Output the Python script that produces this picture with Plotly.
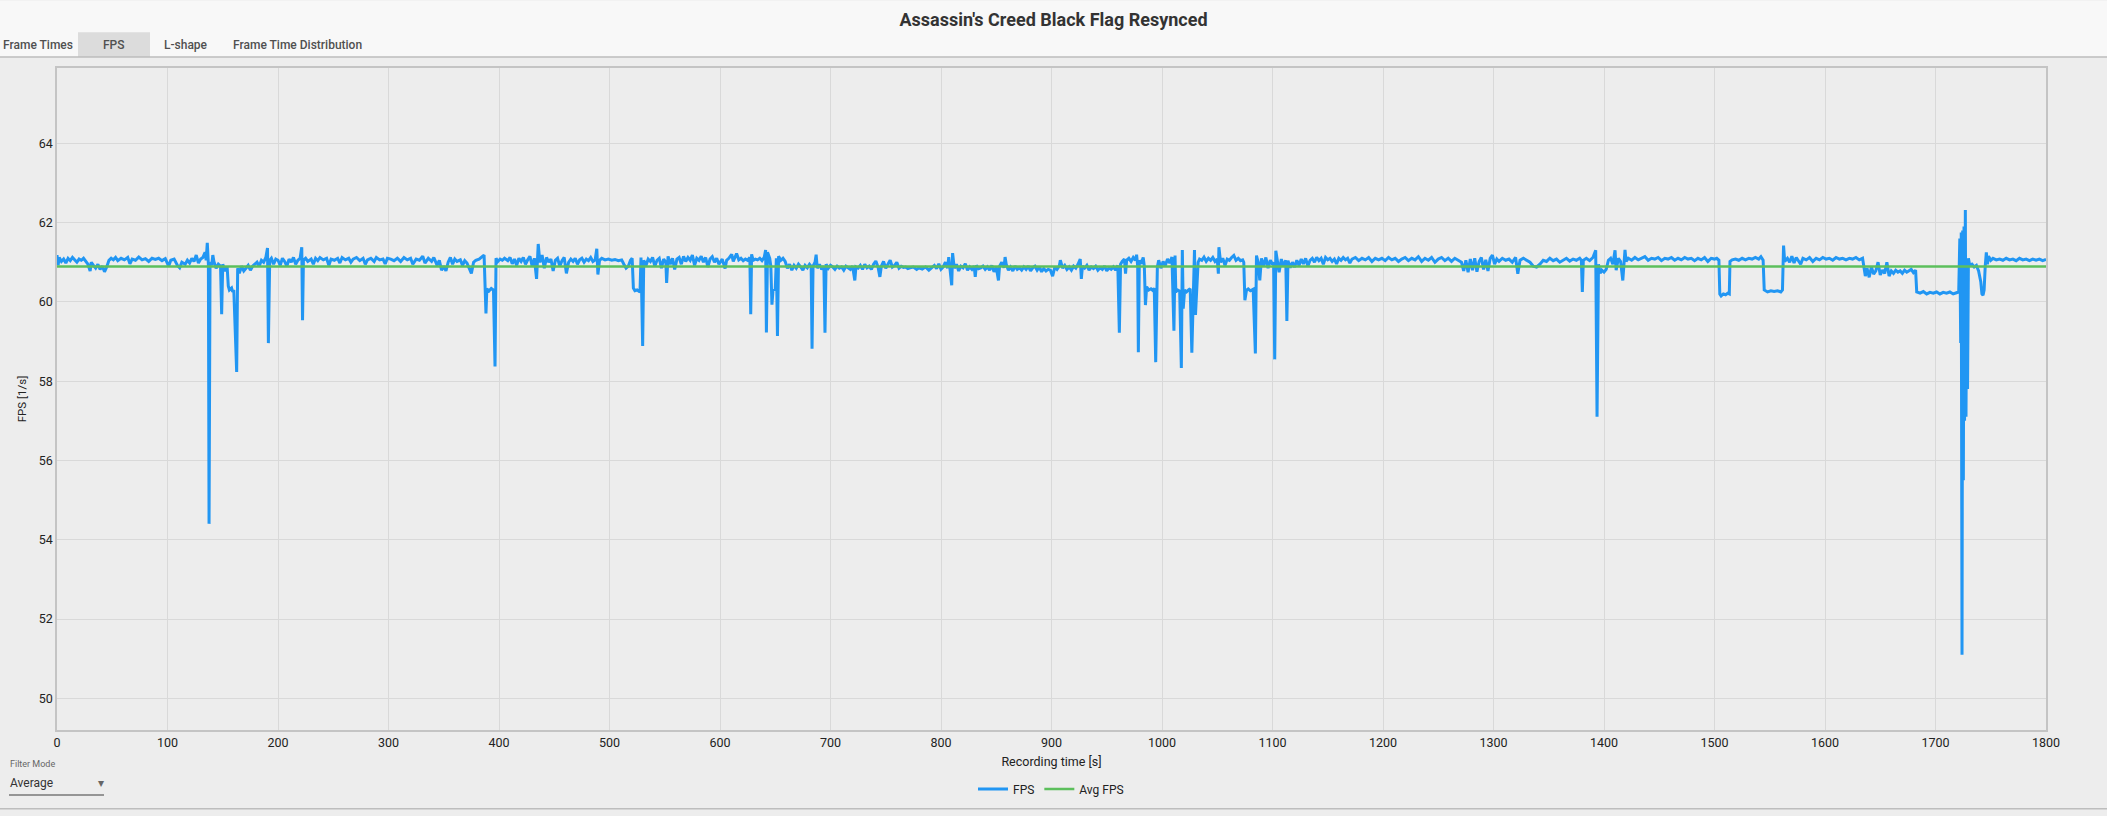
import plotly.graph_objects as go

# ---------------- data ----------------
chart_title = "Assassin's Creed Black Flag Resynced"
tab_labels = ["Frame Times", "FPS", "L-shape", "Frame Time Distribution"]
x_ticks = list(range(0, 1801, 100))
y_ticks = list(range(50, 65, 2))
avg_fps = 60.89

fps_0_300 = [
    (0, 61.18), (1, 60.92), (2, 61.12), (4, 61.02), (6, 61.08), (8, 60.98), (10, 61.1), (12, 61.04),
    (14, 61.12), (16, 61.06), (18, 61.0), (20, 61.08), (22, 61.05), (24, 61.1), (26, 61.02), (28, 60.95),
    (30, 60.78), (31, 61.0), (33, 60.92), (35, 60.85), (37, 60.95), (39, 60.82), (41, 60.9), (43, 60.76),
    (45, 60.88), (47, 61.05), (49, 61.1), (51, 61.06), (53, 61.12), (55, 61.04), (58, 61.1), (61, 61.06),
    (64, 61.12), (66, 60.96), (68, 61.08), (71, 61.05), (74, 61.13), (77, 61.06), (80, 61.09), (83, 61.02),
    (86, 61.1), (89, 61.07), (92, 61.1), (95, 61.04), (98, 61.09), (101, 60.9), (103, 61.05), (106, 61.08),
    (109, 60.92), (111, 60.86), (113, 61.0), (116, 60.95), (118, 61.05), (120, 60.98), (122, 61.1),
    (124, 61.02), (126, 61.18), (128, 60.98), (130, 61.08), (132, 61.12), (134, 61.25), (135, 61.05),
    (136, 61.49), (137, 60.95), (137.6, 54.4), (138.5, 61.0), (140, 60.92), (141, 61.18), (142, 61.02),
    (144, 60.85), (146, 60.95), (148, 60.9), (149, 59.69), (150, 60.95), (152, 60.78), (154, 60.88),
    (155, 60.4), (156, 60.3), (158, 60.35), (159, 60.25), (160, 60.3), (162.6, 58.23), (163.5, 60.85),
    (165, 60.72), (167, 60.9), (169, 60.78), (171, 60.85), (173, 60.92), (175, 60.8), (177, 60.9),
    (179, 60.95), (181, 61.0), (183, 60.9), (185, 61.05), (187, 61.0), (189, 61.12), (190.5, 61.36),
    (191.3, 58.96), (192.5, 61.05), (194, 61.1), (196, 60.95), (198, 61.08), (200, 61.05), (202, 60.92),
    (204, 61.1), (206, 61.02), (208, 60.9), (210, 61.08), (212, 61.0), (214, 61.12), (216, 60.95),
    (218, 61.05), (220, 61.1), (221.5, 61.38), (222.2, 59.54), (223, 61.05), (225, 61.1), (227, 61.02),
    (230, 61.08), (232, 60.95), (234, 61.1), (236, 61.04), (238, 61.12), (241, 61.06), (244, 61.1),
    (246, 60.92), (248, 61.08), (251, 61.05), (254, 61.1), (256, 60.98), (258, 61.12), (261, 61.06),
    (264, 61.1), (266, 61.0), (268, 61.08), (271, 61.12), (274, 61.04), (277, 61.1), (279, 60.95),
    (281, 61.06), (284, 61.1), (287, 61.02), (289, 61.12), (292, 61.06), (295, 61.08), (297, 60.96),
    (299, 61.1),
]

fps_300_600 = [
    (302, 61.08), (305, 61.04), (308, 61.1), (311, 61.02), (314, 61.12), (317, 61.06), (320, 61.1),
    (322, 60.95), (325, 61.08), (328, 61.05), (331, 61.15), (333, 60.98), (336, 61.1), (339, 61.02),
    (341, 61.12), (344, 60.92), (346, 61.05), (348, 60.8), (350, 60.9), (352, 60.78), (354, 61.0),
    (356, 61.12), (358, 60.95), (360, 61.08), (362, 61.02), (365, 61.06), (367, 60.92), (369, 61.04),
    (371, 60.98), (373, 60.85), (375, 60.72), (377, 61.0), (379, 61.05), (382, 61.08), (384, 61.12),
    (386.5, 61.18), (388.2, 59.71), (389, 60.33), (391, 60.28), (393, 60.34), (395, 60.3), (396.4, 58.37),
    (397.3, 61.1), (399, 61.02), (401, 61.08), (403, 61.05), (405, 61.1), (408, 61.04), (410, 61.12),
    (412, 60.96), (414, 61.08), (416, 60.92), (418, 61.1), (420, 61.02), (422, 61.12), (424, 60.95),
    (426, 61.06), (428, 61.15), (430, 60.9), (432, 61.1), (434, 60.58), (435.5, 61.46), (437, 61.0),
    (439, 61.18), (441, 60.85), (443, 61.12), (445, 61.0), (447, 61.08), (449, 60.78), (451, 61.05),
    (453, 61.1), (455, 60.9), (457, 61.04), (459, 61.12), (461, 60.72), (463, 61.0), (465, 61.08),
    (467, 61.02), (469, 61.1), (471, 60.95), (473, 61.06), (475, 61.1), (477, 61.0), (479, 61.08),
    (481, 61.04), (483, 61.12), (485, 61.02), (487, 61.06), (488.5, 61.34), (489.5, 60.69), (491, 61.05),
    (493, 61.1), (496, 61.06), (499, 61.08), (502, 61.05), (505, 61.07), (508, 61.04), (511, 61.06),
    (513, 60.95), (515, 60.85), (517, 60.9), (519, 61.05), (520.5, 61.1), (521.6, 60.35), (523, 60.28),
    (525, 60.3), (527.6, 60.25), (528.5, 61.12), (530, 58.89), (531, 61.05), (533, 60.92), (535, 61.08),
    (537, 61.02), (539, 61.12), (541, 60.9), (543, 61.05), (545, 61.1), (547, 60.85), (549, 61.08),
    (551, 61.0), (551.7, 60.48), (553, 61.15), (555, 60.95), (557, 61.1), (559, 60.82), (561, 61.08),
    (563, 61.12), (565, 60.95), (567, 61.15), (569, 61.02), (571, 61.12), (573, 61.05), (575, 61.18),
    (577, 60.92), (579, 61.1), (581, 61.05), (583, 61.15), (585, 61.0), (587, 61.12), (589, 60.88),
    (591, 61.08), (593, 61.14), (595, 61.0), (597, 61.1), (599, 60.95),
]

fps_600_900 = [
    (602, 61.08), (604.6, 60.84), (606, 61.05), (608, 61.1), (610.6, 61.2), (612, 61.02), (615, 61.22),
    (617, 61.06), (619, 61.1), (621, 61.04), (623, 61.08), (625, 61.05), (627, 61.12), (627.8, 59.69),
    (628.6, 61.2), (630, 61.05), (632, 61.08), (634, 61.06), (636, 61.1), (638, 61.04), (640, 61.12),
    (641.3, 61.31), (642, 59.23), (643, 61.25), (645, 61.1), (646, 60.9), (647, 59.93), (648, 60.3),
    (650, 60.32), (651, 61.1), (652, 59.14), (653, 61.15), (655, 61.05), (657, 61.1), (659, 61.02),
    (661, 60.85), (663, 60.95), (665, 60.8), (667, 60.92), (669, 60.85), (671, 60.95), (673, 60.88),
    (675, 60.8), (677, 60.92), (679, 60.86), (681, 60.95), (682.5, 60.9), (683.3, 58.82), (684.2, 60.9),
    (686, 61.0), (687, 61.19), (688, 60.85), (690, 60.95), (692, 60.82), (694, 60.9), (695, 59.22),
    (696, 60.95), (698, 60.85), (700, 60.92), (702, 60.88), (704, 60.82), (706, 60.9), (708, 60.85),
    (710, 60.88), (712, 60.8), (714, 60.9), (716, 60.86), (718, 60.82), (720, 60.9), (722, 60.54),
    (723, 60.88), (725, 60.85), (727, 60.92), (729, 60.82), (731, 60.95), (733, 60.86), (735, 60.9),
    (737, 60.82), (739, 60.95), (741, 61.03), (743, 60.88), (744.7, 60.63), (746, 60.9), (748, 61.02),
    (750, 60.85), (752, 60.95), (754, 61.05), (756, 60.88), (758, 60.92), (760, 61.0), (762, 60.85),
    (764, 60.9), (766, 60.87), (768, 60.88), (770, 60.84), (772, 60.86), (775, 60.88), (778, 60.82),
    (780, 60.86), (783, 60.83), (786, 60.88), (789, 60.8), (792, 60.86), (794, 60.92), (796, 60.84),
    (798, 60.96), (800, 60.82), (802, 60.88), (804, 61.0), (806, 60.85), (807, 61.13), (808, 60.9),
    (809.7, 60.42), (810.5, 61.23), (812, 60.85), (814, 60.95), (816, 60.78), (818, 60.9), (820, 60.86),
    (822, 60.96), (824, 60.8), (826, 60.88), (828, 60.82), (830, 60.9), (831, 60.63), (832, 60.92),
    (834, 60.84), (836, 60.86), (838, 60.9), (840, 60.82), (842, 60.88), (844, 60.8), (846, 60.92),
    (848, 60.76), (850, 60.88), (852, 60.54), (853, 60.9), (855, 61.0), (857, 60.86), (858, 61.13),
    (859, 60.95), (861, 60.8), (863, 60.88), (865, 60.78), (867, 60.9), (869, 60.82), (871, 60.86),
    (873, 60.8), (875, 60.88), (877, 60.82), (879, 60.9), (881, 60.78), (883, 60.86), (885, 60.9),
    (887, 60.8), (889, 60.88), (891, 60.76), (893, 60.84), (895, 60.78), (897, 60.82), (899, 60.8),
]

fps_900_1200 = [
    (901, 60.65), (903, 60.88), (905, 60.82), (907, 60.9), (908, 61.05), (910, 60.85), (912, 60.92),
    (914, 60.82), (916, 60.88), (918, 60.8), (920, 60.9), (922, 60.85), (924, 60.95), (926, 61.08),
    (927, 60.58), (928, 60.9), (930, 60.85), (932, 60.92), (934, 60.8), (936, 60.88), (938, 60.84),
    (940, 60.9), (942, 60.8), (944, 60.86), (946, 60.82), (948, 60.9), (950, 60.78), (952, 60.86),
    (954, 60.82), (956, 60.88), (958, 60.8), (960, 60.92), (961.4, 59.22), (962.5, 60.95), (964, 61.02),
    (966, 61.08), (967, 60.71), (968, 61.05), (970, 61.1), (972, 61.02), (974, 61.12), (976, 61.05),
    (977, 61.19), (978, 60.9), (978.6, 58.73), (979.5, 61.05), (981, 60.96), (983, 61.12), (984, 60.9),
    (985, 59.92), (986.1, 60.38), (988, 60.3), (990, 60.33), (992, 60.28), (993, 60.35), (994.3, 58.48),
    (995.8, 60.88), (997, 61.05), (999, 60.85), (1001, 61.02), (1003, 60.92), (1005, 61.08), (1007, 60.98),
    (1009, 61.13), (1010.8, 59.27), (1011.8, 61.17), (1012.5, 60.25), (1014, 60.3), (1016, 60.27),
    (1017.5, 58.33), (1018.4, 61.31), (1019.2, 59.83), (1020.5, 60.3), (1022.2, 60.25), (1024, 60.3),
    (1025.5, 60.33), (1027, 58.72), (1028.5, 60.3), (1029.4, 61.31), (1030.3, 59.67), (1031.5, 60.29),
    (1032.7, 61.0), (1034, 61.08), (1036, 61.05), (1038, 61.13), (1040, 61.02), (1042, 61.1), (1044, 61.05),
    (1046, 61.12), (1048, 61.02), (1050, 61.08), (1051, 60.71), (1051.5, 61.38), (1053, 61.0), (1055, 61.1),
    (1057, 60.92), (1059, 61.08), (1061, 61.05), (1063, 61.12), (1065, 61.17), (1067, 61.05), (1069, 61.1),
    (1071, 61.04), (1073, 61.06), (1074, 61.0), (1075, 60.04), (1076.5, 60.3), (1078, 60.33), (1080, 60.28),
    (1082.5, 60.32), (1084.5, 58.7), (1085.5, 61.17), (1087, 61.0), (1088.5, 60.54), (1090, 61.1),
    (1092, 60.9), (1094, 61.12), (1096, 60.85), (1098, 61.05), (1100, 60.95), (1101, 61.0), (1102, 58.55),
    (1103, 61.29), (1104.5, 60.95), (1106, 60.75), (1108, 61.08), (1110, 60.9), (1112, 61.05),
    (1113, 59.52), (1114, 61.04), (1116, 60.86), (1118, 61.0), (1120, 60.88), (1122, 61.05), (1124, 60.92),
    (1126, 61.08), (1128, 60.96), (1130, 61.1), (1132, 60.9), (1134, 61.05), (1136, 61.1), (1138, 61.0),
    (1140, 61.12), (1142, 61.04), (1144, 61.1), (1146, 60.95), (1148, 61.12), (1150, 61.06), (1152, 61.1),
    (1154, 61.02), (1156, 61.08), (1158, 60.96), (1160, 61.1), (1162, 61.05), (1164, 61.12), (1166, 61.06),
    (1168, 61.1), (1170, 60.98), (1172, 61.08), (1175, 61.12), (1178, 61.04), (1181, 61.1), (1184, 61.06),
    (1187, 61.12), (1190, 61.02), (1193, 61.1), (1196, 61.06), (1199, 61.1),
]

fps_1200_1500 = [
    (1202, 61.04), (1205, 61.12), (1208, 61.06), (1211, 61.1), (1214, 61.02), (1217, 61.08), (1220, 61.12),
    (1223, 61.04), (1226, 61.1), (1229, 61.06), (1232, 61.14), (1235, 61.02), (1238, 61.1), (1241, 61.05),
    (1244, 61.12), (1247, 61.0), (1250, 61.08), (1253, 61.12), (1256, 61.04), (1259, 61.1), (1262, 61.02),
    (1265, 61.1), (1268, 61.06), (1271, 61.0), (1273, 60.78), (1275, 61.05), (1277, 60.75), (1279, 61.08),
    (1281, 60.8), (1283, 61.1), (1285, 60.76), (1287, 61.02), (1289, 61.12), (1291, 60.82), (1293, 61.06),
    (1295, 60.78), (1297, 61.1), (1299, 61.18), (1301, 60.95), (1303, 61.08), (1305, 61.02), (1308, 61.1),
    (1311, 61.05), (1314, 61.08), (1317, 61.0), (1320, 61.12), (1322, 60.71), (1324, 61.05), (1327, 61.1),
    (1330, 61.04), (1333, 61.0), (1336, 60.9), (1339, 60.88), (1342, 60.95), (1345, 61.05), (1348, 61.02),
    (1351, 61.1), (1354, 61.04), (1357, 61.08), (1360, 61.0), (1363, 61.06), (1366, 61.1), (1369, 61.03),
    (1372, 61.08), (1375, 61.05), (1378, 61.1), (1379.5, 61.05), (1380.4, 60.25), (1381.3, 61.05),
    (1384, 61.1), (1387, 61.04), (1390, 61.12), (1392.5, 61.3), (1393.7, 57.1), (1395, 60.95),
    (1396.5, 60.72), (1398, 60.8), (1400, 60.75), (1402, 60.82), (1404, 61.05), (1406, 61.1), (1408, 60.95),
    (1410, 61.3), (1411, 60.8), (1413, 61.1), (1415, 61.02), (1417, 60.54), (1418, 61.05), (1419, 61.31),
    (1420, 61.02), (1422, 61.1), (1425, 61.05), (1428, 61.12), (1431, 61.06), (1434, 61.1), (1437, 61.14),
    (1440, 61.05), (1443, 61.1), (1446, 61.08), (1449, 61.12), (1452, 61.04), (1455, 61.1), (1458, 61.08),
    (1461, 61.12), (1464, 61.05), (1467, 61.1), (1470, 61.06), (1473, 61.12), (1476, 61.08), (1479, 61.1),
    (1482, 61.04), (1485, 61.1), (1488, 61.06), (1491, 61.12), (1494, 61.02), (1497, 61.1), (1500, 61.08),
]

fps_1500_1800 = [
    (1502, 61.1), (1504, 61.05), (1504.8, 60.2), (1506, 60.15), (1508, 60.2), (1510, 60.18), (1512, 60.22),
    (1513.4, 60.2), (1514, 61.02), (1516, 61.06), (1519, 61.08), (1522, 61.05), (1525, 61.1), (1528, 61.06),
    (1531, 61.1), (1534, 61.08), (1537, 61.12), (1540, 61.08), (1542, 61.14), (1544, 61.05), (1545, 60.3),
    (1548, 60.25), (1551, 60.28), (1554, 60.26), (1557, 60.28), (1560, 60.25), (1561.5, 60.3),
    (1562.5, 61.42), (1563.5, 61.02), (1566, 61.1), (1568, 61.0), (1570, 61.15), (1572, 60.98), (1574, 61.12),
    (1576, 61.05), (1578, 60.95), (1580, 61.1), (1583, 61.06), (1586, 61.12), (1589, 61.02), (1592, 61.1),
    (1595, 61.06), (1598, 61.12), (1601, 61.08), (1604, 61.1), (1607, 61.05), (1610, 61.12), (1613, 61.08),
    (1616, 61.1), (1619, 61.06), (1622, 61.1), (1625, 61.08), (1628, 61.12), (1631, 61.06), (1634, 61.1),
    (1635, 60.9), (1636.5, 60.65), (1638, 60.85), (1640, 60.62), (1642, 60.88), (1644, 60.7), (1646, 60.78),
    (1648, 61.0), (1650, 60.68), (1652, 60.8), (1654, 60.72), (1656, 61.0), (1658, 60.65), (1660, 60.78),
    (1662, 60.72), (1664, 60.8), (1666, 60.75), (1668, 60.78), (1670, 60.72), (1672, 60.8), (1674, 60.75),
    (1676, 60.78), (1678, 60.82), (1680, 60.74), (1682, 60.8), (1683, 60.25), (1686, 60.22), (1689, 60.26),
    (1692, 60.2), (1695, 60.24), (1698, 60.22), (1701, 60.25), (1704, 60.2), (1707, 60.24), (1710, 60.22),
    (1713, 60.25), (1716, 60.2), (1719, 60.23), (1721, 60.25), (1722, 61.6), (1722.8, 58.96),
    (1723.3, 61.75), (1724, 51.1), (1724.6, 61.8), (1725.2, 55.5), (1725.8, 61.9), (1726.3, 57.0),
    (1727, 62.32), (1727.6, 57.1), (1728.3, 61.1), (1729, 57.8), (1729.8, 61.1), (1731, 60.92),
    (1733, 60.95), (1735, 60.88), (1737, 60.92), (1739, 60.78), (1741, 60.5), (1742, 60.2), (1743, 60.17),
    (1744, 60.3), (1745, 60.9), (1746, 61.25), (1747, 60.95), (1748, 61.15), (1750, 61.05), (1752, 61.1),
    (1755, 61.06), (1758, 61.08), (1761, 61.05), (1764, 61.1), (1767, 61.06), (1770, 61.08), (1773, 61.04),
    (1776, 61.1), (1779, 61.06), (1782, 61.08), (1785, 61.04), (1788, 61.08), (1791, 61.05), (1794, 61.08),
    (1797, 61.04), (1800, 61.07),
]

# ---------------- assemble ----------------
samples = fps_0_300 + fps_300_600 + fps_600_900 + fps_900_1200 + fps_1200_1500 + fps_1500_1800
time_s = [t for t, _ in samples]
fps = [v for _, v in samples]

W, H = 2107, 816
L, R, T, B = 57, 2046, 68, 735.5


def px(x):
    return (x - L) / (R - L)


def py(y):
    return (B - y) / (B - T)


FONT = "Roboto"

fig = go.Figure()
fig.add_trace(go.Scatter(x=time_s, y=fps, mode="lines", name="FPS",
                         line=dict(color="#2196f3", width=3)))
fig.add_trace(go.Scatter(x=[x_ticks[0], x_ticks[-1]], y=[avg_fps, avg_fps], mode="lines",
                         name="Avg FPS", line=dict(color="#5cbf5c", width=2.5)))

fig.update_layout(
    width=W, height=H,
    margin=dict(l=L, r=W - R, t=T, b=H - B),
    paper_bgcolor="#ededed",
    plot_bgcolor="#ededed",
    font=dict(family=FONT, size=12.5, color="#222"),
    title=dict(text=chart_title, x=0.5, xref="container", xanchor="center",
               y=1 - 20 / H, yref="container", yanchor="middle",
               font=dict(family=FONT, size=18, color="#333", weight="bold")),
    showlegend=True,
    legend=dict(orientation="h", x=px(1051), xanchor="center", y=py(795), yanchor="middle",
                font=dict(size=12, color="#222"), bgcolor="rgba(0,0,0,0)", itemwidth=30,
                traceorder="normal"),
    xaxis=dict(range=[x_ticks[0], x_ticks[-1]], tickvals=x_ticks, showgrid=True, gridcolor="#d9d9d9",
               gridwidth=1, zeroline=False, showline=True, linecolor="#c4c4c4", linewidth=1.5,
               mirror=True, ticks="", tickfont=dict(size=12.5, color="#222"),
               title=dict(text="Recording time [s]", standoff=8, font=dict(size=12.5, color="#222"))),
    yaxis=dict(range=[49.2, 65.9], tickvals=y_ticks, showgrid=True, gridcolor="#d9d9d9",
               gridwidth=1, zeroline=False, showline=True, linecolor="#c4c4c4", linewidth=1.5,
               mirror=True, ticks="", tickfont=dict(size=12.5, color="#222"),
               title=dict(text="FPS [1/s]", standoff=10, font=dict(size=11.5, color="#222"))),
)

shapes = [
    # header strip
    dict(type="rect", xref="paper", yref="paper", x0=px(0), x1=px(W), y0=py(57), y1=py(0),
         fillcolor="#f8f8f8", line=dict(width=0), layer="below"),
    # selected tab
    dict(type="rect", xref="paper", yref="paper", x0=px(78), x1=px(150), y0=py(57), y1=py(32),
         fillcolor="#dcdcdc", line=dict(width=0), layer="below"),
    # header separator
    dict(type="line", xref="paper", yref="paper", x0=px(0), x1=px(W), y0=py(57), y1=py(57),
         line=dict(color="#bdbdbd", width=1.5)),
    # bottom border
    dict(type="line", xref="paper", yref="paper", x0=px(0), x1=px(W), y0=py(815), y1=py(815),
         line=dict(color="#bdbdbd", width=1.5)),
    # filter mode underline
    dict(type="line", xref="paper", yref="paper", x0=px(9), x1=px(104), y0=py(801), y1=py(801),
         line=dict(color="#777", width=1.5)),
]
fig.update_layout(shapes=shapes)

tab_x = [38, 114, 186, 297]
annotations = []
for label, cx in zip(tab_labels, tab_x):
    annotations.append(dict(text=label, xref="paper", yref="paper", x=px(cx), y=py(45),
                            xanchor="center", yanchor="middle", showarrow=False,
                            font=dict(family=FONT, size=12, color="#505050", weight=500)))
annotations += [
    dict(text="Filter Mode", xref="paper", yref="paper", x=px(8), y=py(770), xanchor="left",
         yanchor="middle", showarrow=False, font=dict(family=FONT, size=9, color="#666")),
    dict(text="Average", xref="paper", yref="paper", x=px(8), y=py(789), xanchor="left",
         yanchor="middle", showarrow=False, font=dict(family=FONT, size=12, color="#333")),
    dict(text="▾", xref="paper", yref="paper", x=px(101), y=py(789), xanchor="center",
         yanchor="middle", showarrow=False, font=dict(family=FONT, size=12, color="#666")),
]
fig.update_layout(annotations=annotations)

fig.write_html("out.html", config={"displayModeBar": False},
               post_script="document.body.style.margin='0';document.body.style.overflow='hidden';")
